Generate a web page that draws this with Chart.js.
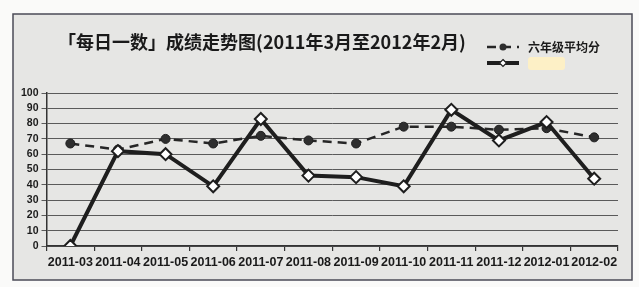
<!DOCTYPE html>
<html>
<head>
<meta charset="utf-8">
<script src="https://cdn.jsdelivr.net/npm/chart.js@4.4.1/dist/chart.umd.min.js"></script>
<style>
html, body { margin: 0; padding: 0; background: #fff; }
</style>
</head>
<body>
<canvas id="c" width="639" height="287"></canvas>
<script>
// months, Mar 2011 - Feb 2012
const months = ['2011-03', '2011-04', '2011-05', '2011-06', '2011-07', '2011-08',
                '2011-09', '2011-10', '2011-11', '2011-12', '2012-01', '2012-02'];
// 六年级平均分 (dashed)
const gradeAvg = [67, 63, 70, 67, 72, 69, 67, 78, 78, 76, 77, 71];
// student score (solid, name hidden in the picture)
const student = [0, 62, 60, 39, 83, 46, 45, 39, 89, 69, 81, 44];
const yMin = 0, yMax = 100, yStep = 10;

const chartTitle = '「每日一数」成绩走势图(2011年3月至2012年2月)';
const cjk = '"Noto Sans CJK SC", "Noto Sans", sans-serif';
const latin = '"Liberation Sans", Arial, sans-serif';

function diamond(ctx, x, y, r) {
    ctx.beginPath();
    ctx.moveTo(x, y - r);
    ctx.lineTo(x + r, y);
    ctx.lineTo(x, y + r);
    ctx.lineTo(x - r, y);
    ctx.closePath();
}

const paper = {
    id: 'paper',
    beforeDraw(chart) {
        const ctx = chart.ctx;
        ctx.save();
        ctx.fillStyle = '#fafaf9';
        ctx.fillRect(0, 0, chart.width, chart.height);
        ctx.fillStyle = '#e6e6e4';
        ctx.fillRect(13, 14, 619, 266);
        ctx.strokeStyle = '#4b4b57';
        ctx.lineWidth = 1.5;
        ctx.strokeRect(13, 14, 619, 266);
        ctx.restore();
    },
    afterDraw(chart) {
        const ctx = chart.ctx;
        ctx.save();
        // title
        ctx.fillStyle = '#1a1a1a';
        ctx.font = 'bold 18px ' + cjk;
        ctx.textBaseline = 'middle';
        ctx.textAlign = 'center';
        ctx.fillText(chartTitle, 262, 42);

        // legend, stacked
        const x0 = 487;
        chart.data.datasets.forEach((ds, i) => {
            const y = 47 + i * 16;
            ctx.strokeStyle = ds.borderColor;
            ctx.lineWidth = i == 0 ? 2.5 : 4;
            ctx.setLineDash(ds.borderDash || []);
            ctx.beginPath();
            ctx.moveTo(x0, y);
            ctx.lineTo(x0 + 32, y);
            ctx.stroke();
            ctx.setLineDash([]);
            if (ds.pointStyle == 'circle') {
                ctx.fillStyle = ds.pointBackgroundColor;
                ctx.beginPath();
                ctx.arc(x0 + 16, y, 3.5, 0, Math.PI * 2);
                ctx.fill();
            } else {
                diamond(ctx, x0 + 16, y, 3.5);
                ctx.fillStyle = '#fff';
                ctx.fill();
                ctx.lineWidth = 1.2;
                ctx.stroke();
            }
            if (ds.label) {
                ctx.fillStyle = '#1a1a1a';
                ctx.font = 'bold 12px ' + cjk;
                ctx.textAlign = 'left';
                ctx.fillText(ds.label, x0 + 41, y);
            } else {
                // name is blanked out in the picture
                ctx.fillStyle = '#fdf0c6';
                ctx.beginPath();
                ctx.roundRect(x0 + 41, y - 6, 37, 13, 3);
                ctx.fill();
            }
        });
        ctx.restore();
    }
};

new Chart(document.getElementById('c'), {
    type: 'line',
    data: {
        labels: months,
        datasets: [
            {
                label: '六年级平均分',
                data: gradeAvg,
                borderColor: '#262626',
                borderWidth: 2.5,
                borderDash: [9, 6],
                pointStyle: 'circle',
                pointRadius: 4.5,
                pointBackgroundColor: '#2e2e2e',
                pointBorderColor: '#1e1e1e',
                pointBorderWidth: 1,
                tension: 0,
                order: 2
            },
            {
                label: '',
                data: student,
                borderColor: '#1e1e1e',
                borderWidth: 4,
                pointStyle: 'rectRot',
                pointRadius: 6,
                pointBackgroundColor: '#ffffff',
                pointBorderColor: '#1e1e1e',
                pointBorderWidth: 2,
                tension: 0,
                order: 1
            }
        ]
    },
    options: {
        responsive: false,
        animation: false,
        layout: { padding: { left: 18, right: 21, top: 93, bottom: 13 } },
        plugins: {
            legend: { display: false },
            tooltip: { enabled: false }
        },
        scales: {
            x: {
                offset: true,
                grid: { offset: true, drawOnChartArea: false, tickLength: 5, color: '#333', lineWidth: 1.2 },
                border: { color: '#333', width: 1.5 },
                ticks: {
                    color: '#1a1a1a',
                    font: { family: latin, weight: 'bold', size: 12.5 },
                    padding: 4, maxRotation: 0, autoSkip: false
                }
            },
            y: {
                min: yMin,
                max: yMax,
                ticks: {
                    stepSize: yStep,
                    autoSkip: false,
                    color: '#1a1a1a',
                    font: { family: latin, weight: 'bold', size: 10.5 },
                    padding: 3
                },
                grid: { color: '#5a5a5a', lineWidth: 1, tickLength: 5 },
                border: { color: '#333', width: 1.5 }
            }
        }
    },
    plugins: [paper]
});
</script>
</body>
</html>
